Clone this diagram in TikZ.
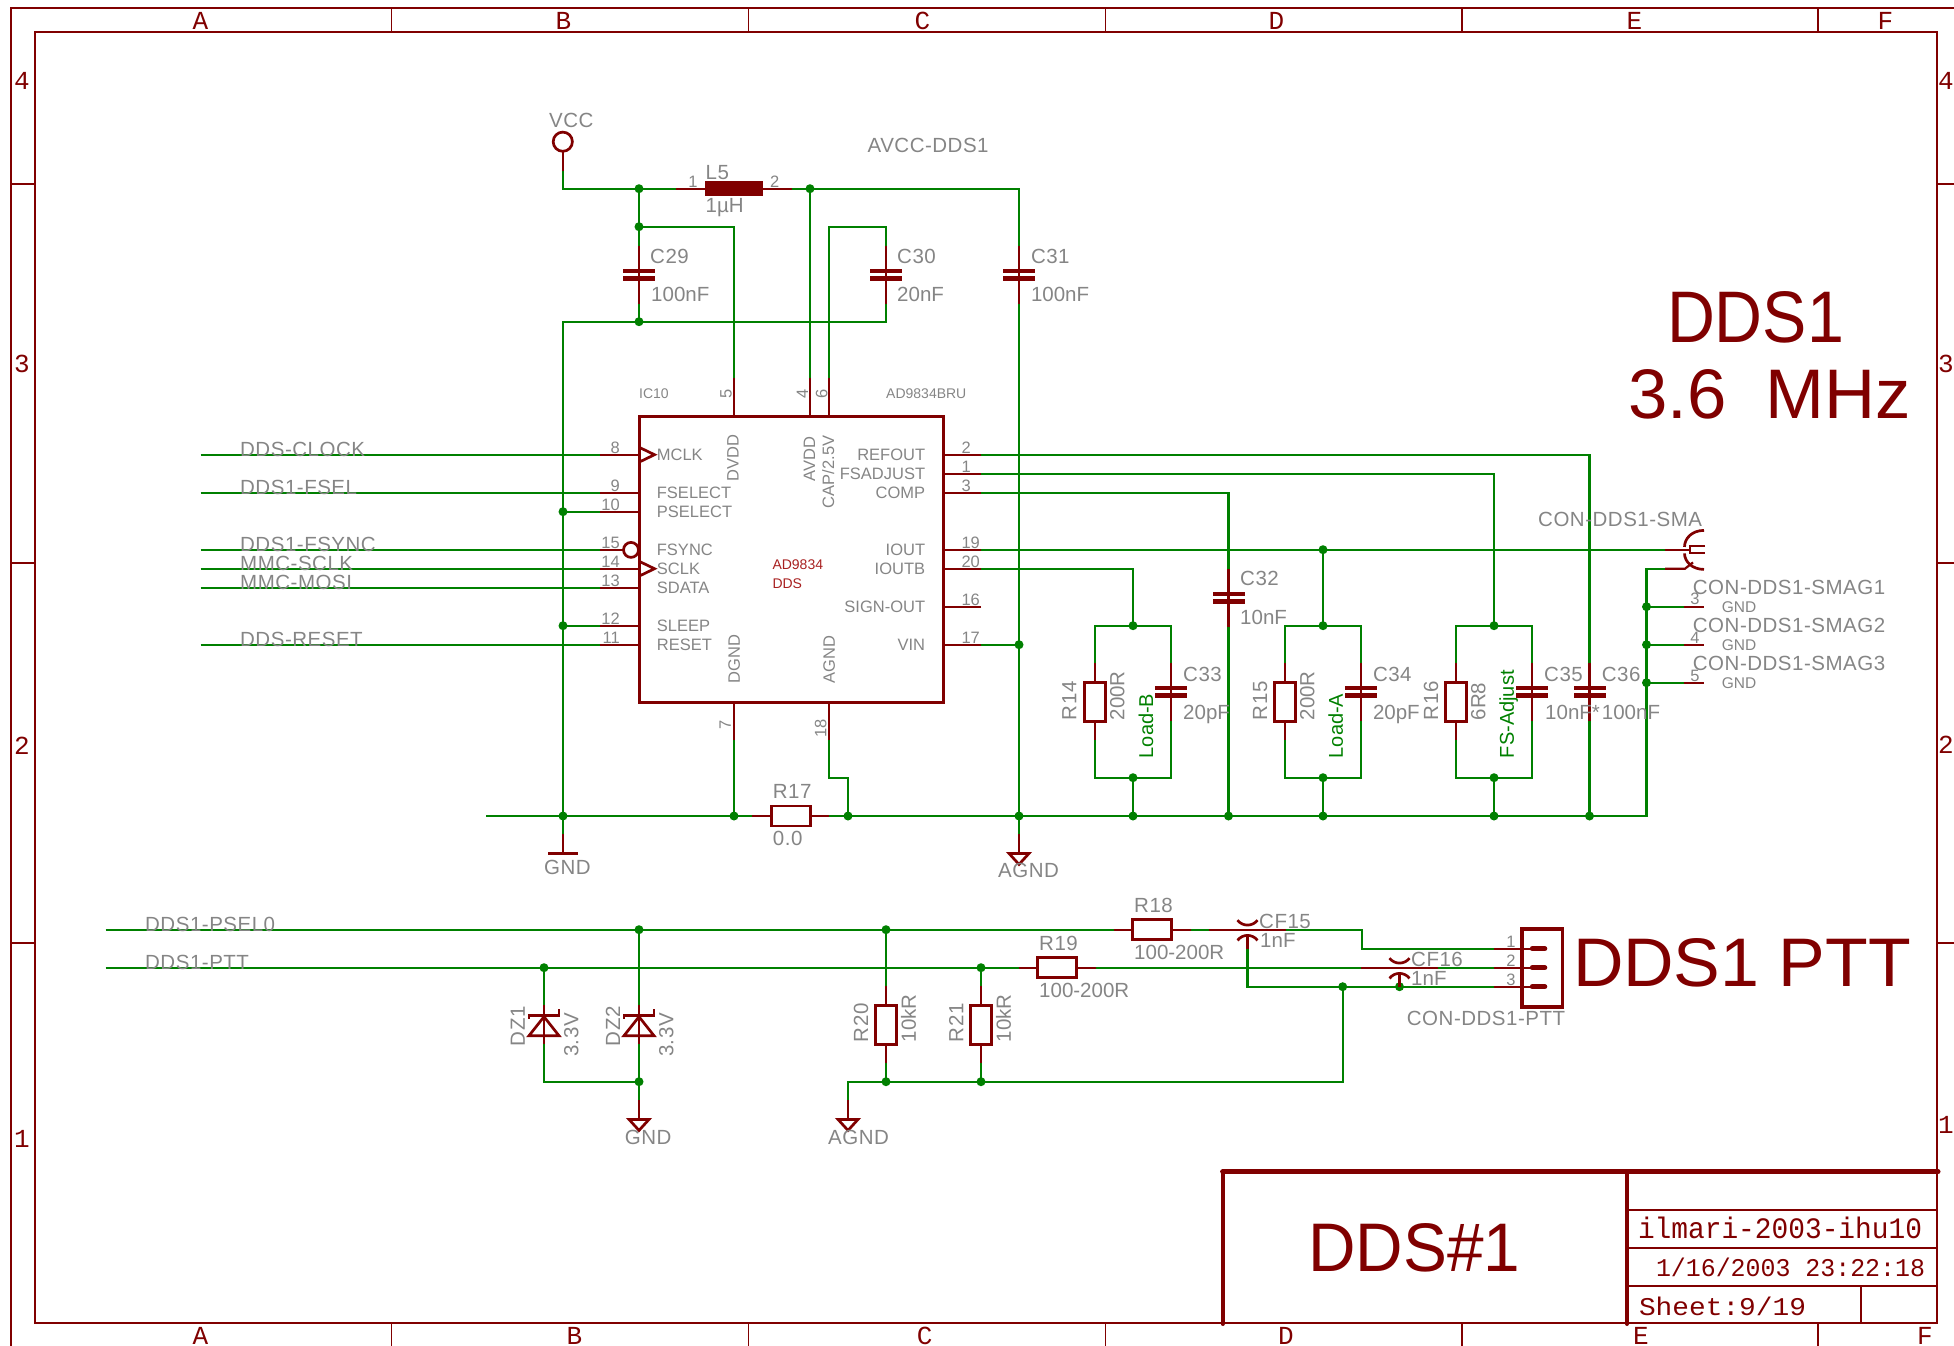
\documentclass[tikz,border=0pt]{standalone}
\usepackage{fontspec}
\usepackage{graphicx}
\setmainfont{Liberation Sans}
\newfontfamily\vecmono{Liberation Mono}
\newfontfamily\spacedsans[LetterSpace=2.5]{Liberation Sans}
\definecolor{schred}{HTML}{800000}
\definecolor{schgreen}{HTML}{008000}
\definecolor{schgray}{HTML}{858585}
\definecolor{chipred}{HTML}{A82020}
\newcommand{\fitsans}[3]{\resizebox{#1pt}{#2pt}{\fontsize{60}{60}\selectfont #3}}
\newcommand{\fitmono}[3]{\resizebox{#1pt}{#2pt}{\fontsize{30}{30}\selectfont\vecmono #3}}
\tikzset{
  wire/.style={draw=schgreen,line width=2.3pt,line join=miter},
  pinline/.style={draw=schred,line width=2.2pt},
  symline/.style={draw=schred,line width=2.7pt},
  frameline/.style={draw=schred,line width=1.7pt},
  titlethick/.style={draw=schred,line width=4pt,line cap=round},
  dot/.style={circle,fill=schgreen,minimum size=9pt,inner sep=0pt},
  lab/.style={text=schgray,font=\fontsize{20.5}{20.5}\selectfont\spacedsans,inner sep=0pt,anchor=west,text height=14.7pt,text depth=0pt},
  labn/.style={lab,font=\fontsize{20.5}{20.5}\selectfont},
  labv/.style={lab,rotate=90},
  labvn/.style={labn,rotate=90},
  glab/.style={text=schgreen,font=\fontsize{20}{20}\selectfont,inner sep=0pt,anchor=west,rotate=90,text height=14.4pt,text depth=0pt},
  pinname/.style={text=schgray,font=\fontsize{16.5}{16.5}\selectfont,inner sep=0pt,anchor=west,text height=11.8pt,text depth=0pt},
  pinnameR/.style={pinname,anchor=east},
  pinnameV/.style={pinname,rotate=90},
  pinnum/.style={text=schgray,font=\fontsize{16.5}{16.5}\selectfont,inner sep=0pt,text height=11.8pt,text depth=0pt},
  smalllab/.style={text=schgray,font=\fontsize{14}{14}\selectfont,inner sep=0pt,anchor=west,text height=10pt,text depth=0pt},
  chiplab/.style={text=chipred,font=\fontsize{14}{14}\selectfont,inner sep=0pt,anchor=west,text height=10pt,text depth=0pt},
  framelab/.style={text=schred,font=\fontsize{26}{26}\selectfont\vecmono,inner sep=0pt,text height=18.4pt,text depth=0pt},
  bigtext/.style={text=schred,inner sep=0pt},
  capsym/.pic={
    \draw[pinline] (0,-29) -- (0,29);
    \fill[schred] (-16,-6) rectangle (16,-1.6);
    \fill[schred] (-16,1.6) rectangle (16,6);
  },
  resv/.pic={
    \draw[pinline] (0,-38.5) -- (0,-19.5);
    \draw[pinline] (0,19.5) -- (0,38.5);
    \draw[symline] (-10.3,-19.5) rectangle (10.3,19.5);
  },
  resh/.pic={
    \draw[pinline] (-38.5,0) -- (-19.5,0);
    \draw[pinline] (19.5,0) -- (38.5,0);
    \draw[symline] (-19.5,-10) rectangle (19.5,10);
  },
  zener/.pic={
    \draw[pinline] (0,-19.3) -- (0,19.7);
    \draw[symline,line join=miter] (0,-8) -- (-15,11) -- (15,11) -- cycle;
    \draw[symline] (-15,-6) -- (-15,-9) -- (15,-9) -- (15,-16);
  },
  gndtri/.pic={
    \draw[pinline] (0,-19) -- (0,0);
    \draw[symline,line join=miter] (-10,0) -- (10,0) -- (0,11) -- cycle;
  },
  cfsym/.pic={
    \draw[pinline] (-38.5,0) -- (38.5,0);
    \draw[symline] (-10,-9.5) .. controls (-5,-3) and (5,-3) .. (10,-9.5);
    \draw[symline] (-10,10.7) .. controls (-5,4) and (5,4) .. (10,10.7);
    \draw[pinline] (0,6) -- (0,19);
  }
}
\begin{document}
\begin{tikzpicture}[x=1pt,y=-1pt]
\useasboundingbox (0,0) rectangle (1954,1346);
% ---------- frame
\coordinate (ftl) at (11,8); \coordinate (ftr) at (1954,8); \coordinate (fbl) at (11,1346);
\coordinate (itl) at (35,32); \coordinate (ibr) at (1937,1323.3);
\draw[frameline] (fbl) -- (ftl) -- (ftr);
\draw[frameline] (itl) rectangle (ibr);
\foreach \x in {391.5,748.4,1105.4,1461.8,1818}{
  \draw[frameline] (\x,8) -- (\x,32);
  \draw[frameline] (\x,1323.3) -- (\x,1346);
}
\foreach \y in {184,563.3,943.3}{
  \draw[frameline] (11,\y) -- (35,\y);
  \draw[frameline] (1937,\y) -- (1954,\y);
}
\node[framelab] (ta) at (200.5,20) {A};
\node[framelab] (tb) at (563.5,20) {B};
\node[framelab] (tc) at (922.5,20) {C};
\node[framelab] (td) at (1276.5,20) {D};
\node[framelab] (te) at (1634.5,20) {E};
\node[framelab] (tf) at (1885.5,20) {F};
\node[framelab] (ba) at (200.5,1335) {A};
\node[framelab] (bb) at (574.5,1335) {B};
\node[framelab] (bc) at (924.7,1335) {C};
\node[framelab] (bd) at (1286,1335) {D};
\node[framelab] (be) at (1641,1335) {E};
\node[framelab] (bf) at (1925,1335) {F};
\node[framelab] (l4) at (22,80) {4};
\node[framelab] (l3) at (22,363) {3};
\node[framelab] (l2) at (22,745) {2};
\node[framelab] (l1) at (22,1138) {1};
\node[framelab] (r4) at (1946,80) {4};
\node[framelab] (r3) at (1946,363) {3};
\node[framelab] (r2) at (1946,744) {2};
\node[framelab] (r1) at (1946,1124) {1};
% ---------- title block
\draw[draw=schred,line width=5pt,line cap=round] (1222.6,1171.7) -- (1938,1171.7);
\draw[titlethick] (1222.6,1171.7) -- (1222.6,1324);
\draw[titlethick] (1627,1171.7) -- (1627,1324);
\draw[frameline] (1627,1209.7) -- (1937,1209.7);
\draw[frameline] (1627,1247.7) -- (1937,1247.7);
\draw[frameline] (1627,1285.7) -- (1937,1285.7);
\draw[frameline] (1861,1285.7) -- (1861,1323.3);
\node[bigtext] (sheettitle) at (1414.5,1248) {\fitsans{212}{48}{DDS\#1}};
\node[bigtext] (drawing) at (1780,1227.5) {\fitmono{284}{21.5}{ilmari-2003-ihu10}};
\node[bigtext] (stamp) at (1790.5,1267.5) {\fitmono{269}{18.5}{1/16/2003 23:22:18}};
\node[bigtext] (sheetno) at (1722.5,1306) {\fitmono{167}{18.5}{Sheet:9/19}};
\node[bigtext] (big1) at (1755.5,317) {\fitsans{177}{51}{DDS1}};
\node[bigtext] (big2) at (1769.5,394) {\fitsans{283}{49}{3.6\ \ MHz}};
\node[bigtext] (big3) at (1742,962.5) {\fitsans{338}{48}{DDS1 PTT}};
\begin{scope}[yshift=-0.4pt]
% ---------- named points
\foreach \n/\x/\y in {
 vccp/562.8/170.7, l5a/676/188.3, l5b/792/188.3,
 c29t/639/245.3, c29b/639/303.3, c30t/886/245.3, c30b/886/303.3, c31t/1019/245.3, c31b/1019/303.3,
 p5/734/378, p4/810/378, p6/829/378, p7/734/740, p18/829/740,
 nclk/200.7/454.3, nfsel/200.7/492.3, nsync/200.7/549.3, nsclk/200.7/568.3, nmosi/200.7/587.3, nrst/200.7/644.3,
 p8/600/454.3, p9/600/492.3, p10/600/511.3, p15/600/549.3, p14/600/568.3, p13/600/587.3, p12/600/625.3, p11/600/644.3,
 p2/981/454.3, p1/981/473.3, p3/981/492.3, p19/981/549.3, p20/981/568.3, p16/981/606.3, p17/981/644.3,
 c32t/1228.5/568.3, c32b/1228.5/626.3,
 r14t/1095/662.8, r14b/1095/739.8, c33t/1171/662.3, c33b/1171/720.3,
 r15t/1285/662.8, r15b/1285/739.8, c34t/1361/662.3, c34b/1361/720.3,
 r16t/1456/662.8, r16b/1456/739.8, c35t/1532/662.3, c35b/1532/720.3,
 c36t/1589.5/662.3, c36b/1589.5/720.3,
 groundl/486/815.6, r17a/752.3/815.6, r17b/829.3/815.6, gnda/563/834, agnda/1019/834,
 sma1/1665/549.3, sma2/1665/568.3, sg3/1684/606.3, sg4/1684/644.3, sg5/1684/682.3,
 npsel/105.7/929.3, nptt/105.7/967.3,
 r18a/1113.5/929.3, r18b/1190.5/929.3, cf15a/1209/929.3, cf15b/1286/929.3, cf15s/1247.5/948.3,
 r19a/1018.5/967.3, r19b/1095.5/967.3, cf16a/1361/967.3, cf16b/1438/967.3, cf16s/1399.5/986.3,
 h1/1494.3/948.3, h2/1494.3/967.3, h3/1494.3/986.3,
 dz1t/544/1005, dz1b/544/1044, dz2t/639/1005, dz2b/639/1044,
 r20t/886/985.8, r20b/886/1062.8, r21t/981/985.8, r21b/981/1062.8,
 gndb/639/1100, agndb/848/1100}{
  \coordinate (\n) at (\x,\y);
}
% ---------- junctions
\foreach \n/\x/\y in {
 jv1/639/188.3, jv2/639/226.3, jv3/639/321.3, jl2/810/188.3,
 jp10/563/511.3, jp12/563/625.3, jg0/563/815.6, j7/734/815.6, j18/848/815.6,
 j17/1019/644.3, ja/1019/815.6,
 jb1/1133/625.3, jb2/1133/777.3, jb3/1133/815.6, j32/1228.5/815.6,
 jc0/1323/549.3, jc1/1323/625.3, jc2/1323/777.3, jc3/1323/815.6,
 jd1/1494/625.3, jd2/1494/777.3, jd3/1494/815.6, j36/1589.5/815.6,
 js3/1646.5/606.3, js4/1646.5/644.3, js5/1646.5/682.3,
 jt1/639/929.3, jt2/886/929.3, jt3/544/967.3, jt4/981/967.3,
 jt5/639/1081.3, jt6/886/1081.3, jt7/981/1081.3, jt8/1342.7/986.3, jt9/1399.5/986.3}{
  \node[dot] (\n) at (\x,\y) {};
}
% ---------- wires
\draw[wire] (vccp) |- (jv1.center) -- (l5a);
\draw[wire] (l5b) -- (jl2.center) -| (c31t);
\draw[wire] (jv1.center) -- (jv2.center) -- (c29t);
\draw[wire] (jv2.center) -| (p5);
\draw[wire] (jl2.center) -- (p4);
\draw[wire] (p6) |- (c30t |- jv2) -- (c30t);
\draw[wire] (c29b) -- (jv3.center);
\draw[wire] (c30b) |- (gnda |- jv3) -- (gnda);
\draw[wire] (c31b) -- (agnda);
\draw[wire] (nclk) -- (p8);
\draw[wire] (nfsel) -- (p9);
\draw[wire] (nsync) -- (p15);
\draw[wire] (nsclk) -- (p14);
\draw[wire] (nmosi) -- (p13);
\draw[wire] (nrst) -- (p11);
\draw[wire] (jp10.center) -- (p10);
\draw[wire] (jp12.center) -- (p12);
\draw[wire] (p2) -| (c36t);
\draw[wire] (c36b) -- (j36.center);
\draw[wire] (p1) -| (jd1.center);
\draw[wire] (p3) -| (c32t);
\draw[wire] (c32b) -- (j32.center);
\draw[wire] (p19) -- (sma1);
\draw[wire] (p20) -| (jb1.center);
\draw[wire] (p17) -- (j17.center);
\draw[wire] (r14t) |- (jb1.center) -| (c33t);
\draw[wire] (r14b) |- (jb2.center) -| (c33b);
\draw[wire] (jb2.center) -- (jb3.center);
\draw[wire] (jc0.center) -- (jc1.center);
\draw[wire] (r15t) |- (jc1.center) -| (c34t);
\draw[wire] (r15b) |- (jc2.center) -| (c34b);
\draw[wire] (jc2.center) -- (jc3.center);
\draw[wire] (r16t) |- (jd1.center) -| (c35t);
\draw[wire] (r16b) |- (jd2.center) -| (c35b);
\draw[wire] (jd2.center) -- (jd3.center);
\draw[wire] (groundl) -- (r17a);
\draw[wire] (r17b) -- (js5 |- groundl) -- (js5.center) |- (sma2);
\draw[wire] (p7) -- (j7.center);
\draw[wire] (p18) |- (j18 |- jb2) -- (j18.center);
\draw[wire] (js3.center) -- (sg3);
\draw[wire] (js4.center) -- (sg4);
\draw[wire] (js5.center) -- (sg5);
\draw[wire] (npsel) -- (r18a);
\draw[wire] (r18b) -- (cf15a);
\draw[wire] (cf15b) -- (1361.7,929.3) |- (h1);
\draw[wire] (nptt) -- (r19a);
\draw[wire] (r19b) -- (cf16a);
\draw[wire] (cf16b) -- (h2);
\draw[wire] (cf15s) |- (h3);
\draw[wire] (jt1.center) -- (dz2t);
\draw[wire] (dz2b) -- (gndb);
\draw[wire] (jt3.center) -- (dz1t);
\draw[wire] (dz1b) |- (jt5.center);
\draw[wire] (jt2.center) -- (r20t);
\draw[wire] (r20b) -- (jt6.center);
\draw[wire] (jt4.center) -- (r21t);
\draw[wire] (r21b) -- (jt7.center);
\draw[wire] (agndb) |- (jt6.center) -- (jt7.center) -| (jt8.center);
% ---------- chip
\node[draw=schred,line width=3pt,minimum width=304pt,minimum height=285.7pt,inner sep=0pt] (ic) at (791.2,558.9) {};
\foreach \n/\e in {p8/639,p9/639,p10/639,p15/623.5,p14/639,p13/639,p12/639,p11/639,p2/943,p1/943,p3/943,p19/943,p20/943,p16/943,p17/943}{
  \draw[pinline] (\n) -- (\e,0 |- \n);
}
\foreach \n/\e in {p5/416,p4/416,p6/416,p7/702,p18/702}{
  \draw[pinline] (\n) -- (\n |- 0,\e);
}
\draw[symline,line join=miter] (640,447.3) -- (654.5,454.3) -- (640,461.3);
\draw[symline,line join=miter] (640,561.3) -- (654.5,568.3) -- (640,575.3);
\draw[symline] (631,549.5) circle (7.5);
% ---------- passives
\pic at (639,274.3) {capsym};
\pic at (886,274.3) {capsym};
\pic at (1019,274.3) {capsym};
\pic at (1228.5,597.3) {capsym};
\pic at (1171,691.3) {capsym};
\pic at (1361,691.3) {capsym};
\pic at (1532,691.3) {capsym};
\pic at (1589.5,691.3) {capsym};
\pic at (1095,701.3) {resv};
\pic at (1285,701.3) {resv};
\pic at (1456,701.3) {resv};
\pic at (886,1024.3) {resv};
\pic at (981,1024.3) {resv};
\pic at (790.8,815.6) {resh};
\pic at (1152,929.3) {resh};
\pic at (1057,967.3) {resh};
\pic at (544,1024.3) {zener};
\pic at (639,1024.3) {zener};
\pic at (848,1119) {gndtri};
\pic at (639,1119) {gndtri};
\pic at (1019,853) {gndtri};
\pic at (1247.5,929.3) {cfsym};
\pic at (1399.5,967.3) {cfsym};
% L5
\draw[pinline] (l5a) -- (l5b);
\fill[schred] (705,181) rectangle (763,196);
% VCC
\draw[pinline] (vccp) -- (562.8,151);
\draw[symline] (562.8,141.3) circle (9.6);
% GND bar
\draw[pinline] (gnda) -- (563,853);
\draw[symline] (548.3,853.3) -- (578.3,853.3);
% SMA
\draw[pinline] (sma1) -- (1689,549.3);
\draw[pinline] (sma2) -- (1685,568.3) -- (1693,562);
\draw[symline] (1704,530) .. controls (1692,530) and (1684.5,538) .. (1684.5,546.5);
\draw[symline] (1684.5,553) .. controls (1684.5,561) and (1692,569) .. (1704,569);
\draw[symline,line join=miter] (1705,545.7) -- (1690,545.7) -- (1690,552.7) -- (1705,552.7);
\foreach \n in {sg3,sg4,sg5}{ \draw[pinline] (\n) -- ++(20.3,0); }
% PTT connector
\draw[draw=schred,line width=3.5pt] (1522,928.7) rectangle (1562.7,1006.7);
\foreach \n in {h1,h2,h3}{
  \draw[pinline] (\n) -- ++(38,0);
  \draw[draw=schred,line width=5pt,line cap=round] ([xshift=38pt]\n) -- ++(12.5,0);
}
% ---------- net labels
\node[lab] (tclk) at (240,448.3) {DDS-CLOCK};
\node[lab] (tfsel) at (240,486.7) {DDS1-FSEL};
\node[lab] (tsync) at (240,543.3) {DDS1-FSYNC};
\node[lab] (tsclk) at (240,562.7) {MMC-SCLK};
\node[lab] (tmosi) at (240,581.7) {MMC-MOSI};
\node[lab] (trst) at (240,638.3) {DDS-RESET};
\node[lab] (tpsel) at (145,923.3) {DDS1-PSEL0};
\node[lab] (tptt) at (145,961.7) {DDS1-PTT};
\node[lab] (tvcc) at (549,120) {VCC};
\node[lab] (tavcc) at (867.4,144.3) {AVCC-DDS1};
\node[lab] (tl5) at (705.5,171.7) {L5};
\node[labn] (tl5v) at (705.5,205) {1µH};
\node[pinnum] (tl1) at (693,180.7) {1};
\node[pinnum] (tl2) at (774.8,180.7) {2};
\node[lab] (tc29) at (650,255.7) {C29};
\node[labn] (tc29v) at (651,293.3) {100nF};
\node[lab] (tc30) at (897,255.7) {C30};
\node[labn] (tc30v) at (897,293.3) {20nF};
\node[lab] (tc31) at (1030.8,255.7) {C31};
\node[labn] (tc31v) at (1030.8,293.3) {100nF};
\node[lab] (tc32) at (1240,578) {C32};
\node[labn] (tc32v) at (1240,616.7) {10nF};
\node[lab] (tc33) at (1183,673.3) {C33};
\node[labn] (tc33v) at (1183,711.7) {20pF};
\node[lab] (tc34) at (1372.8,673.3) {C34};
\node[labn] (tc34v) at (1372.8,711.7) {20pF};
\node[lab] (tc35) at (1544,673.3) {C35};
\node[labn] (tc35v) at (1545,711.7) {10nF*};
\node[lab] (tc36) at (1601.7,673.3) {C36};
\node[labn] (tc36v) at (1601.7,711.7) {100nF};
\node[labv] (tr14) at (1069,720) {R14};
\node[labvn] (tr14v) at (1117,720) {200R};
\node[glab] (tloadb) at (1146,758) {Load-B};
\node[labv] (tr15) at (1259.8,720) {R15};
\node[labvn] (tr15v) at (1307,720) {200R};
\node[glab] (tloada) at (1335.7,758) {Load-A};
\node[labv] (tr16) at (1430.8,720) {R16};
\node[labvn] (tr16v) at (1478,720) {6R8};
\node[glab] (tfsadj) at (1506.7,758) {FS-Adjust};
\node[lab] (tr17) at (772.7,790.7) {R17};
\node[lab] (tr17v) at (772.7,837.3) {0.0};
\node[lab] (tgnd1) at (544,866.7) {GND};
\node[lab] (tagnd1) at (998,870) {AGND};
\node[lab] (tsma) at (1538,518.3) {CON-DDS1-SMA};
\node[lab] (tg1) at (1692.7,586.7) {CON-DDS1-SMAG1};
\node[lab] (tg2) at (1692.7,625) {CON-DDS1-SMAG2};
\node[lab] (tg3) at (1692.7,663) {CON-DDS1-SMAG3};
\node[pinnum] (ts3) at (1695,598) {3};
\node[pinnum] (ts4) at (1695,636.7) {4};
\node[pinnum] (ts5) at (1695,674.7) {5};
\node[pinname,font=\fontsize{15.5}{15.5}\selectfont,text height=11pt] (tsg1) at (1721.7,606.7) {GND};
\node[pinname,font=\fontsize{15.5}{15.5}\selectfont,text height=11pt] (tsg2) at (1721.7,644.7) {GND};
\node[pinname,font=\fontsize{15.5}{15.5}\selectfont,text height=11pt] (tsg3) at (1721.7,682.7) {GND};
\node[lab] (tr18) at (1134,905) {R18};
\node[labn] (tr18v) at (1134,951.7) {100-200R};
\node[lab] (tr19) at (1039,943) {R19};
\node[labn] (tr19v) at (1039,989.7) {100-200R};
\node[lab] (tcf15) at (1259,920.7) {CF15};
\node[labn] (tcf15v) at (1260,940) {1nF};
\node[lab] (tcf16) at (1411,959) {CF16};
\node[labn] (tcf16v) at (1411,978) {1nF};
\node[pinnum] (th1) at (1511,940.7) {1};
\node[pinnum] (th2) at (1511,960) {2};
\node[pinnum] (th3) at (1511,979) {3};
\node[lab] (tptt2) at (1406.7,1018) {CON-DDS1-PTT};
\node[labv] (tdz1) at (517.5,1046) {DZ1};
\node[labv] (tdz1v) at (571,1056.7) {3.3V};
\node[labv] (tdz2) at (612.8,1046) {DZ2};
\node[labv] (tdz2v) at (666,1056.7) {3.3V};
\node[labv] (tr20) at (860.8,1042) {R20};
\node[labvn] (tr20v) at (908.6,1042) {10kR};
\node[labv] (tr21) at (956,1042) {R21};
\node[labvn] (tr21v) at (1003.5,1042) {10kR};
\node[lab] (tgnd2) at (624.7,1136.7) {GND};
\node[lab] (tagnd2) at (828,1136.7) {AGND};
% ---------- chip labels
\node[smalllab] (tic) at (639,393.3) {IC10};
\node[smalllab] (tbru) at (886,393.3) {AD9834BRU};
\node[chiplab] (tchip1) at (772.3,564.3) {AD9834};
\node[chiplab] (tchip2) at (772.3,583.3) {DDS};
\node[pinname] (nmclk) at (656.7,454.3) {MCLK};
\node[pinname] (nfs) at (656.7,492.3) {FSELECT};
\node[pinname] (nps) at (656.7,511.3) {PSELECT};
\node[pinname] (nfy) at (656.7,549.3) {FSYNC};
\node[pinname] (nsc) at (656.7,568.3) {SCLK};
\node[pinname] (nsd) at (656.7,587.3) {SDATA};
\node[pinname] (nsl) at (656.7,625.3) {SLEEP};
\node[pinname] (nre) at (656.7,644.3) {RESET};
\node[pinnameR] (nrf) at (925.3,454.3) {REFOUT};
\node[pinnameR] (nfa) at (925.3,473.3) {FSADJUST};
\node[pinnameR] (nco) at (925.3,492.3) {COMP};
\node[pinnameR] (nio) at (925.3,549.3) {IOUT};
\node[pinnameR] (nib) at (925.3,568.3) {IOUTB};
\node[pinnameR] (nsg) at (925.3,606.3) {SIGN-OUT};
\node[pinnameR] (nvi) at (925.3,644.3) {VIN};
\node[pinnameV] (ndv) at (732.7,481) {DVDD};
\node[pinnameV] (nav) at (809.3,481) {AVDD};
\node[pinnameV] (ncp) at (828.3,508) {CAP/2.5V};
\node[pinnameV] (ndg) at (734,683.3) {DGND};
\node[pinnameV] (nag) at (829,683.3) {AGND};
% ---------- pin numbers
\foreach \t/\y in {8/446.7,9/485,10/504,15/541.7,14/561,13/580,12/617.7,11/637}{
  \node[pinnum,anchor=east] (pl\t) at (620,\y) {\t};
}
\foreach \t/\y in {2/446.7,1/465.7,3/484.7,19/541.7,20/560.7,16/599,17/636.7}{
  \node[pinnum,anchor=west] (pr\t) at (961.3,\y) {\t};
}
\node[pinnum,rotate=90] (pt5) at (725.8,394) {5};
\node[pinnum,rotate=90] (pt4) at (802.3,394) {4};
\node[pinnum,rotate=90] (pt6) at (821.5,394) {6};
\node[pinnum,rotate=90] (pb7) at (725,725) {7};
\node[pinnum,rotate=90] (pb18) at (820.5,728) {18};
\end{scope}
\end{tikzpicture}
\end{document}
